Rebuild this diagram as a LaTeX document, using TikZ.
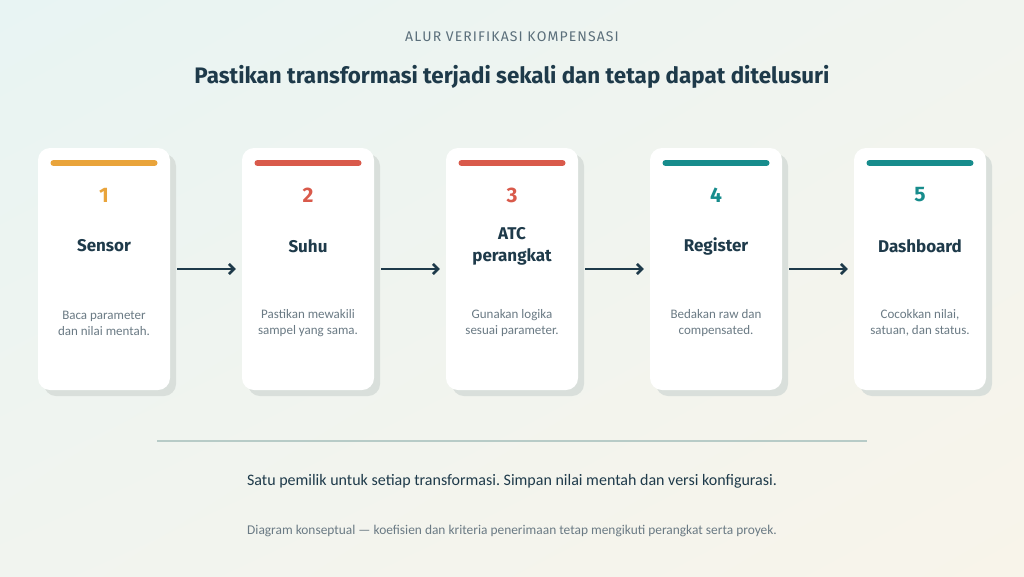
\documentclass[tikz,border=0pt]{standalone}
\usepackage{fontspec}
\setmainfont{Carlito}
\newfontfamily\headfont{Fira Sans}
\usetikzlibrary{arrows.meta,positioning,shadows,shadings}
\frenchspacing

\definecolor{ink}{HTML}{1E3A4A}
\definecolor{subtle}{HTML}{5B6F7B}
\definecolor{bodygray}{HTML}{6A7A84}
\definecolor{accorange}{HTML}{E9A43B}
\definecolor{accred}{HTML}{D95A4B}
\definecolor{accteal}{HTML}{178C8C}
\definecolor{shadowgray}{HTML}{D9DFDB}
\definecolor{rulegray}{HTML}{B7CBC7}
\definecolor{bgmint}{HTML}{E8F4F3}
\definecolor{bgmid}{HTML}{F1F4EF}
\definecolor{bgcream}{HTML}{F8F4EA}

\tikzset{
  card/.style={fill=white, rounded corners=12pt, minimum width=132pt, minimum height=242pt,
    drop shadow={shadow xshift=6pt, shadow yshift=-6pt, fill=shadowgray, opacity=1}},
  stepnum/.style={font=\headfont\bfseries\fontsize{21}{24}\selectfont},
  steptitle/.style={font=\headfont\bfseries\fontsize{17}{22}\selectfont, text=ink, align=center},
  stepdesc/.style={font=\fontsize{13}{16}\selectfont, text=bodygray, align=center},
  flow/.style={-{Straight Barb[length=5pt,width=10pt]}, line width=2.6pt, draw=ink,
    shorten <=7pt, shorten >=6pt}
}

\begin{document}
\begin{tikzpicture}[x=1pt,y=-1pt]
% Page frame and soft background
\useasboundingbox (0,0) rectangle (1024,576);
\shade[upper left=bgmint, upper right=bgmid, lower left=bgmid, lower right=bgcream] (0,0) rectangle (1024,576);

% Heading
\node[font=\headfont\fontsize{14}{16}\selectfont, text=subtle] (kicker) at (512,37) {A\kern1.1pt L\kern1.1pt U\kern1.1pt R\ \kern1pt V\kern1.1pt E\kern1.1pt R\kern1.1pt I\kern1.1pt F\kern1.1pt I\kern1.1pt K\kern1.1pt A\kern1.1pt S\kern1.1pt I\ \kern1pt K\kern1.1pt O\kern1.1pt M\kern1.1pt P\kern1.1pt E\kern1.1pt N\kern1.1pt S\kern1.1pt A\kern1.1pt S\kern1.1pt I};
\node[font=\headfont\bfseries\fontsize{22.4}{26}\selectfont, text=ink] (title) at (512,77) {Pastikan transformasi terjadi sekali dan tetap dapat ditelusuri};

% Step cards
\foreach \i/\col/\name/\desc in {
  1/accorange/Sensor/{Baca parameter\\dan nilai mentah.},
  2/accred/Suhu/{Pastikan mewakili\\sampel yang sama.},
  3/accred/{ATC\\perangkat}/{Gunakan logika\\sesuai parameter.},
  4/accteal/Register/{Bedakan raw dan\\compensated.},
  5/accteal/Dashboard/{Cocokkan nilai,\\satuan, dan status.}} {
  \pgfmathsetmacro{\cx}{104+204*(\i-1)}
  \node[card] (card\i) at (\cx,269) {};
  \draw[\col, line width=6pt, line cap=round] (\cx-50.5,163) -- (\cx+50.5,163);
  \node[stepnum, text=\col] (num\i) at (\cx,195) {\i};
  \node[steptitle] (name\i) at (\cx,246) {\name};
  \node[stepdesc] (desc\i) at (\cx,323) {\desc};
}

% Connectors between cards
\foreach \i [evaluate=\i as \j using int(\i+1)] in {1,...,4}
  \draw[flow] (card\i.east) -- (card\j.west);

% Divider and footer notes
\coordinate (ruleL) at (157,441);
\coordinate (ruleR) at (867,441);
\draw[rulegray, line width=1.5pt] (ruleL) -- (ruleR);
\node[font=\fontsize{16}{18}\selectfont, text=ink] (summary) at (512,481) {Satu pemilik untuk setiap transformasi. Simpan nilai mentah dan versi konfigurasi.};
\node[font=\fontsize{13.4}{15}\selectfont, text=bodygray] (note) at (512,531) {Diagram konseptual — koefisien dan kriteria penerimaan tetap mengikuti perangkat serta proyek.};
\end{tikzpicture}
\end{document}
